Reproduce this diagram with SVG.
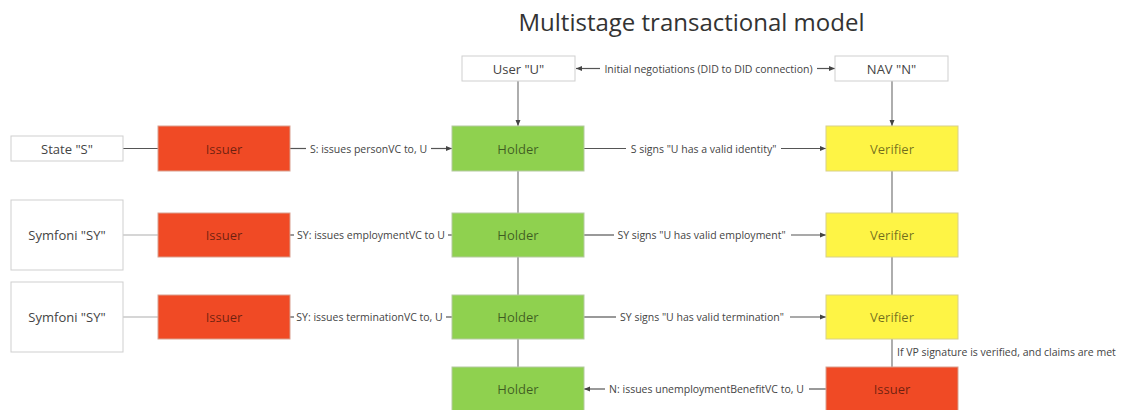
<svg xmlns="http://www.w3.org/2000/svg" width="1132" height="410" viewBox="0 0 1132 410">
<defs>
<marker id="arr" markerUnits="userSpaceOnUse" markerWidth="7" markerHeight="6" refX="6" refY="3" orient="auto-start-reverse">
<path d="M0,0.5 L6,3 L0,5.5 Z" fill="#444"/>
</marker>
<style>
.bg{fill:#ffffff}
.white{fill:#ffffff;stroke:#cfcfcf;stroke-width:1}
.red{fill:#f04a25;stroke:#d9a08f;stroke-width:1}
.green{fill:#8fd14f;stroke:#b4c9a0;stroke-width:1}
.yellow{fill:#fef445;stroke:#d8d08a;stroke-width:1}
.nt{font-family:"Open Sans","Liberation Sans",sans-serif;font-size:13px;text-anchor:middle;dominant-baseline:central;fill:#000;fill-opacity:0.56}
.wt{font-family:"Open Sans","Liberation Sans",sans-serif;font-size:13px;text-anchor:middle;dominant-baseline:central;fill:#444}
.lbl{font-family:"Open Sans","Liberation Sans",sans-serif;font-size:10.5px;dominant-baseline:central;fill:#444}
.mid{text-anchor:middle}
.title{font-family:"Open Sans","Liberation Sans",sans-serif;font-size:24px;text-anchor:middle;fill:#333}
.ln{stroke:#555;stroke-width:1.2;fill:none}
.lnl{stroke:#c8c8c8;stroke-width:1.5;fill:none}
.lnv{stroke:#777;stroke-width:1.2;fill:none}
</style>
</defs>
<rect class="bg" x="0" y="0" width="1132" height="410"/>
<text class="title" x="691.5" y="31">Multistage transactional model</text>

<g id="connectors">
<!-- User <-> NAV -->
<line class="ln" x1="600" y1="68.5" x2="576" y2="68.5" marker-end="url(#arr)"/>
<line class="ln" x1="817" y1="68.5" x2="835" y2="68.5" marker-end="url(#arr)"/>
<text class="lbl mid" x="708.5" y="68.5">Initial negotiations (DID to DID connection)</text>
<!-- verticals -->
<line class="lnv" x1="518" y1="81" x2="518" y2="126" marker-end="url(#arr)"/>
<line class="lnv" x1="892" y1="81" x2="892" y2="126" marker-end="url(#arr)"/>
<line class="lnv" x1="518" y1="171" x2="518" y2="213"/>
<line class="lnv" x1="518" y1="257" x2="518" y2="295"/>
<line class="lnv" x1="518" y1="339" x2="518" y2="367"/>
<line class="lnv" x1="892" y1="171" x2="892" y2="213"/>
<line class="lnv" x1="892" y1="257" x2="892" y2="295"/>
<line class="lnv" x1="892" y1="339" x2="892" y2="367"/>
<!-- source -> issuer -->
<line class="ln" x1="123" y1="148.5" x2="158" y2="148.5"/>
<line class="lnl" x1="123" y1="235" x2="158" y2="235"/>
<line class="lnl" x1="123" y1="317" x2="158" y2="317"/>
<!-- row 1 -->
<line class="ln" x1="290" y1="148.5" x2="306" y2="148.5"/>
<text class="lbl mid" x="368.5" y="148.5">S: issues personVC to, U</text>
<line class="ln" x1="431" y1="148.5" x2="452" y2="148.5" marker-end="url(#arr)"/>
<line class="ln" x1="584" y1="148.5" x2="626" y2="148.5"/>
<text class="lbl mid" x="703.5" y="148.5">S signs "U has a valid identity"</text>
<line class="ln" x1="781" y1="148.5" x2="826" y2="148.5" marker-end="url(#arr)"/>
<!-- row 2 -->
<line class="ln" x1="290" y1="235" x2="294" y2="235"/>
<text class="lbl mid" x="371" y="235">SY: issues employmentVC to U</text>
<line class="ln" x1="448" y1="235" x2="452" y2="235"/>
<line class="ln" x1="584" y1="235" x2="614" y2="235"/>
<text class="lbl mid" x="701.5" y="235">SY signs "U has valid employment"</text>
<line class="ln" x1="791" y1="235" x2="826" y2="235" marker-end="url(#arr)"/>
<!-- row 3 -->
<line class="ln" x1="290" y1="317" x2="294" y2="317"/>
<text class="lbl mid" x="369.5" y="317">SY: issues terminationVC to, U</text>
<line class="ln" x1="446" y1="317" x2="452" y2="317"/>
<line class="ln" x1="584" y1="317" x2="616" y2="317"/>
<text class="lbl mid" x="702" y="317">SY signs "U has valid termination"</text>
<line class="ln" x1="790" y1="317" x2="826" y2="317" marker-end="url(#arr)"/>
<!-- row 4 -->
<line class="ln" x1="605" y1="389" x2="584" y2="389" marker-end="url(#arr)"/>
<text class="lbl mid" x="706.5" y="389">N: issues unemploymentBenefitVC to, U</text>
<line class="ln" x1="809" y1="389" x2="826" y2="389"/>
<text class="lbl" x="897" y="352">If VP signature is verified, and claims are met</text>
</g>

<g id="user"><rect class="white" x="462" y="56" width="113" height="25"/><text class="wt" x="518.5" y="68.5">User "U"</text></g>
<g id="nav"><rect class="white" x="835" y="56" width="113" height="25"/><text class="wt" x="891.5" y="68.5">NAV "N"</text></g>

<g id="state"><rect class="white" x="11" y="136" width="112" height="25"/><text class="wt" x="67" y="148.5">State "S"</text></g>
<g id="symfoni1"><rect class="white" x="11" y="200" width="112" height="70"/><text class="wt" x="67" y="235">Symfoni "SY"</text></g>
<g id="symfoni2"><rect class="white" x="11" y="282" width="112" height="70"/><text class="wt" x="67" y="317">Symfoni "SY"</text></g>

<g id="issuer1"><rect class="red" x="158" y="126" width="132" height="45"/><text class="nt" x="224" y="148.5">Issuer</text></g>
<g id="issuer2"><rect class="red" x="158" y="213" width="132" height="44"/><text class="nt" x="224" y="235">Issuer</text></g>
<g id="issuer3"><rect class="red" x="158" y="295" width="132" height="44"/><text class="nt" x="224" y="317">Issuer</text></g>

<g id="holder1"><rect class="green" x="452" y="126" width="132" height="45"/><text class="nt" x="518" y="148.5">Holder</text></g>
<g id="holder2"><rect class="green" x="452" y="213" width="132" height="44"/><text class="nt" x="518" y="235">Holder</text></g>
<g id="holder3"><rect class="green" x="452" y="295" width="132" height="44"/><text class="nt" x="518" y="317">Holder</text></g>
<g id="holder4"><rect class="green" x="452" y="367" width="132" height="45"/><text class="nt" x="518" y="389">Holder</text></g>

<g id="verifier1"><rect class="yellow" x="826" y="126" width="132" height="45"/><text class="nt" x="892" y="148.5">Verifier</text></g>
<g id="verifier2"><rect class="yellow" x="826" y="213" width="132" height="44"/><text class="nt" x="892" y="235">Verifier</text></g>
<g id="verifier3"><rect class="yellow" x="826" y="295" width="132" height="44"/><text class="nt" x="892" y="317">Verifier</text></g>
<g id="issuer4"><rect class="red" x="826" y="367" width="132" height="45"/><text class="nt" x="892" y="389">Issuer</text></g>
</svg>
